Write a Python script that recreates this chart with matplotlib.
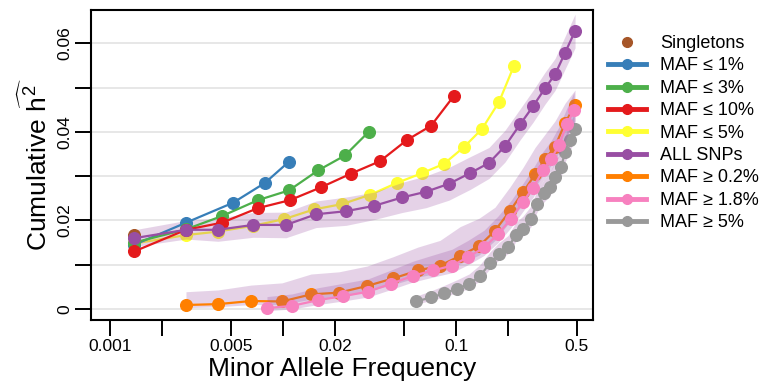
import matplotlib
matplotlib.use("Agg")
import matplotlib.pyplot as plt
import numpy as np
from matplotlib.lines import Line2D

# Cette section contrôle la police
plt.rcParams['font.family'] = ['Liberation Sans', 'DejaVu Sans']
plt.rcParams['mathtext.fontset'] = 'custom'
plt.rcParams['mathtext.rm'] = 'Liberation Sans'
plt.rcParams['mathtext.it'] = 'Liberation Sans'

# ---------------------------------------------------------------------------
# Données
# ---------------------------------------------------------------------------
singleton_x = [0.00138]
singleton_y = [0.0167]

maf1_x = [0.00138, 0.00275, 0.00514, 0.00787, 0.01083]
maf1_y = [0.0145, 0.0195, 0.0240, 0.0285, 0.0333]

maf3_x = [0.00138, 0.00275, 0.00444, 0.00717, 0.01083, 0.01593, 0.02283, 0.0314]
maf3_y = [0.0150, 0.0180, 0.0210, 0.0246, 0.0268, 0.0313, 0.0347, 0.0401]

maf10_x = [0.00138, 0.00275, 0.00444, 0.00717, 0.01098, 0.01659, 0.02472,
           0.03637, 0.0521, 0.0717, 0.0974]
maf10_y = [0.0130, 0.0179, 0.0195, 0.0228, 0.0246, 0.0275, 0.0306,
           0.0334, 0.0382, 0.0414, 0.0482]

maf5_x = [0.00138, 0.00275, 0.00421, 0.00671, 0.01013, 0.01511, 0.02193, 0.03184,
          0.0456, 0.0636, 0.0852, 0.1112, 0.1414, 0.1773, 0.2164]
maf5_y = [0.0148, 0.0167, 0.0175, 0.0188, 0.0203, 0.0225, 0.0237, 0.0258,
          0.0285, 0.0307, 0.0328, 0.0366, 0.0407, 0.0468, 0.0550]

all_x = [0.00138, 0.00275, 0.00421, 0.00671, 0.01041, 0.01551, 0.02313, 0.03357,
         0.04874, 0.0671, 0.0911, 0.1205, 0.1551, 0.1919, 0.2344, 0.2787,
         0.327, 0.3735, 0.4267, 0.4875]
all_y = [0.0160, 0.0179, 0.0179, 0.0190, 0.0190, 0.0214, 0.0221, 0.0233,
         0.0252, 0.0265, 0.0283, 0.0307, 0.0330, 0.0368, 0.0417, 0.0458,
         0.0499, 0.0530, 0.0579, 0.0628]
all_se = [0.0019, 0.0021, 0.0026, 0.0028, 0.0029, 0.0030, 0.0032, 0.0031,
          0.0034, 0.0036, 0.0037, 0.0037, 0.0035, 0.0036, 0.0035, 0.0036,
          0.0036, 0.0036, 0.0037, 0.0038]

ge02_x = [0.00275, 0.00421, 0.00653, 0.00987, 0.01452, 0.02107, 0.03059, 0.04323,
          0.0603, 0.0808, 0.1055, 0.1358, 0.168, 0.2052, 0.244, 0.2862,
          0.327, 0.3735, 0.4267, 0.4875]
ge02_y = [0.0009, 0.0011, 0.0018, 0.0017, 0.0033, 0.0037, 0.0052, 0.0069,
          0.0087, 0.0098, 0.0120, 0.0142, 0.0177, 0.0222, 0.0264, 0.0304,
          0.0338, 0.0367, 0.0420, 0.0461]
ge02_lo = [0.0003, 0.0005, 0.0010, 0.0010, 0.0022, 0.0026, 0.0040, 0.0055,
           0.0072, 0.0082, 0.0102, 0.0122, 0.0155, 0.0198, 0.0238, 0.0276,
           0.0308, 0.0335, 0.0385, 0.0425]
ge02_hi = [0.0039, 0.0043, 0.0054, 0.0059, 0.0079, 0.0084, 0.0097, 0.0118,
           0.0140, 0.0155, 0.0186, 0.0205, 0.0230, 0.0276, 0.0320, 0.0365,
           0.0395, 0.0425, 0.0465, 0.0495]

ge18_x = [0.00808, 0.01127, 0.01593, 0.02223, 0.0310, 0.0421, 0.0564, 0.0736,
          0.0948, 0.1173, 0.1452, 0.1749, 0.2079, 0.244, 0.2787, 0.3184,
          0.3541, 0.394, 0.4382, 0.481]
ge18_y = [0.0002, 0.0007, 0.0020, 0.0029, 0.0039, 0.0057, 0.0075, 0.0087,
          0.0098, 0.0117, 0.0139, 0.0169, 0.0204, 0.0242, 0.0274, 0.0314,
          0.0338, 0.0371, 0.0418, 0.0450]
ge18_lo = [-0.0004, 0.0000, 0.0010, 0.0018, 0.0027, 0.0044, 0.0061, 0.0072,
           0.0082, 0.0100, 0.0121, 0.0150, 0.0184, 0.0221, 0.0252, 0.0290,
           0.0313, 0.0345, 0.0390, 0.0420]
ge18_hi = [0.0028, 0.0034, 0.0048, 0.0058, 0.0068, 0.0088, 0.0108, 0.0122,
           0.0135, 0.0155, 0.0178, 0.0210, 0.0245, 0.0284, 0.0318, 0.0356,
           0.0380, 0.0412, 0.0455, 0.0490]

ge5_x = [0.0587, 0.0717, 0.0852, 0.1013, 0.1189, 0.1376, 0.1572, 0.1773,
         0.1998, 0.2223, 0.244, 0.2713, 0.2939, 0.3227, 0.3495, 0.3735,
         0.4046, 0.4267, 0.4561, 0.4875]
ge5_y = [0.0017, 0.0026, 0.0035, 0.0046, 0.0056, 0.0075, 0.0103, 0.0124,
         0.0139, 0.0168, 0.0181, 0.0203, 0.0237, 0.0261, 0.0276, 0.0299,
         0.0320, 0.0355, 0.0383, 0.0407]
ge5_lo = [0.0011, 0.0019, 0.0027, 0.0037, 0.0046, 0.0064, 0.0091, 0.0111,
          0.0125, 0.0153, 0.0165, 0.0186, 0.0219, 0.0242, 0.0256, 0.0278,
          0.0298, 0.0332, 0.0359, 0.0382]
ge5_hi = [0.0029, 0.0041, 0.0053, 0.0066, 0.0079, 0.0100, 0.0129, 0.0150,
          0.0166, 0.0196, 0.0210, 0.0233, 0.0268, 0.0293, 0.0309, 0.0333,
          0.0355, 0.0391, 0.0420, 0.0445]

x_ticks = [0.001, 0.002, 0.005, 0.01, 0.02, 0.05, 0.1, 0.2, 0.5]
x_ticklabels = ['0.001', '', '0.005', '', '0.02', '', '0.1', '', '0.5']
y_ticks = [0, 0.01, 0.02, 0.03, 0.04, 0.05, 0.06]
y_ticklabels = ['0', '', '0.02', '', '0.04', '', '0.06']

# Couleurs (palette Set1)
c_blue = '#377EB8'
c_green = '#4DAF4A'
c_red = '#E41A1C'
c_purple = '#984EA3'
c_orange = '#FF7F00'
c_yellow = '#FFFF33'
c_brown = '#A65628'
c_pink = '#F781BF'
c_gray = '#999999'
band_alpha = 0.25

# ---------------------------------------------------------------------------
# Figure
# ---------------------------------------------------------------------------
fig = plt.figure(figsize=(7.62, 3.84), dpi=100)
ax = fig.add_axes([91 / 762, 1 - 320 / 384, (593 - 91) / 762, (320 - 10) / 384])

style = dict(marker='o', markersize=8.4, linewidth=1.6)

ax.plot(maf5_x, maf5_y, color=c_yellow, zorder=3, **style)
ax.fill_between(all_x, np.array(all_y) - np.array(all_se),
                np.array(all_y) + np.array(all_se),
                color=c_purple, alpha=band_alpha, linewidth=0, zorder=4)
ax.plot(singleton_x, singleton_y, 'o', color=c_brown, markersize=8.4, zorder=4)
ax.plot(maf1_x, maf1_y, color=c_blue, zorder=5, **style)
ax.plot(maf3_x, maf3_y, color=c_green, zorder=5, **style)
ax.plot(maf10_x, maf10_y, color=c_red, zorder=5, **style)
ax.plot(all_x, all_y, color=c_purple, zorder=6, **style)

ax.fill_between(ge02_x, ge02_lo, ge02_hi, color=c_purple, alpha=band_alpha,
                linewidth=0, zorder=3)
ax.plot(ge02_x, ge02_y, color=c_orange, zorder=3.5, **style)
ax.fill_between(ge18_x, ge18_lo, ge18_hi, color=c_purple, alpha=band_alpha,
                linewidth=0, zorder=4)
ax.plot(ge18_x, ge18_y, color=c_pink, zorder=4.5, **style)
ax.fill_between(ge5_x, ge5_lo, ge5_hi, color=c_purple, alpha=band_alpha,
                linewidth=0, zorder=3)
ax.plot(ge5_x, ge5_y, color=c_gray, zorder=3.5, **style)

ax.set_xscale('log')
ax.set_xlim(0.000777, 0.619)
ax.set_ylim(-0.00249, 0.06757)
ax.set_xticks(x_ticks)
ax.set_xticklabels(x_ticklabels)
ax.xaxis.set_minor_locator(matplotlib.ticker.NullLocator())
ax.set_yticks(y_ticks)
ax.set_yticklabels(y_ticklabels, rotation=90, va='center')
ax.tick_params(axis='both', direction='out', length=11.5, width=1.4,
               labelsize=12.5, pad=2)
ax.grid(axis='y', color='#e3e3e3', linewidth=1.2, zorder=0)
ax.set_axisbelow(True)
for s in ax.spines.values():
    s.set_linewidth(1.5)

ax.set_xlabel('Minor Allele Frequency', fontsize=19, labelpad=2)
ax.set_ylabel(r'Cumulative $\widehat{h^2}$', fontsize=19, labelpad=4)

# Légende
handle_style = dict(marker='o', markersize=7, linewidth=3.5)
handles = [
    Line2D([], [], marker='o', markersize=7, linestyle='none', color=c_brown),
    Line2D([], [], color=c_blue, **handle_style),
    Line2D([], [], color=c_green, **handle_style),
    Line2D([], [], color=c_red, **handle_style),
    Line2D([], [], color=c_yellow, **handle_style),
    Line2D([], [], color=c_purple, **handle_style),
    Line2D([], [], color=c_orange, **handle_style),
    Line2D([], [], color=c_pink, **handle_style),
    Line2D([], [], color=c_gray, **handle_style),
]
labels = ['Singletons', 'MAF \u2264 1%', 'MAF \u2264 3%', 'MAF \u2264 10%',
          'MAF \u2264 5%', 'ALL SNPs', 'MAF \u2265 0.2%', 'MAF \u2265 1.8%',
          'MAF \u2265 5%']
fig.legend(handles, labels, loc='upper left', bbox_to_anchor=(608 / 762, 1 - 35 / 384),
           frameon=False, fontsize=13, handlelength=2.1, handletextpad=0.8,
           labelspacing=0.3, borderaxespad=0, borderpad=0)

fig.savefig('out.png', dpi=100)
